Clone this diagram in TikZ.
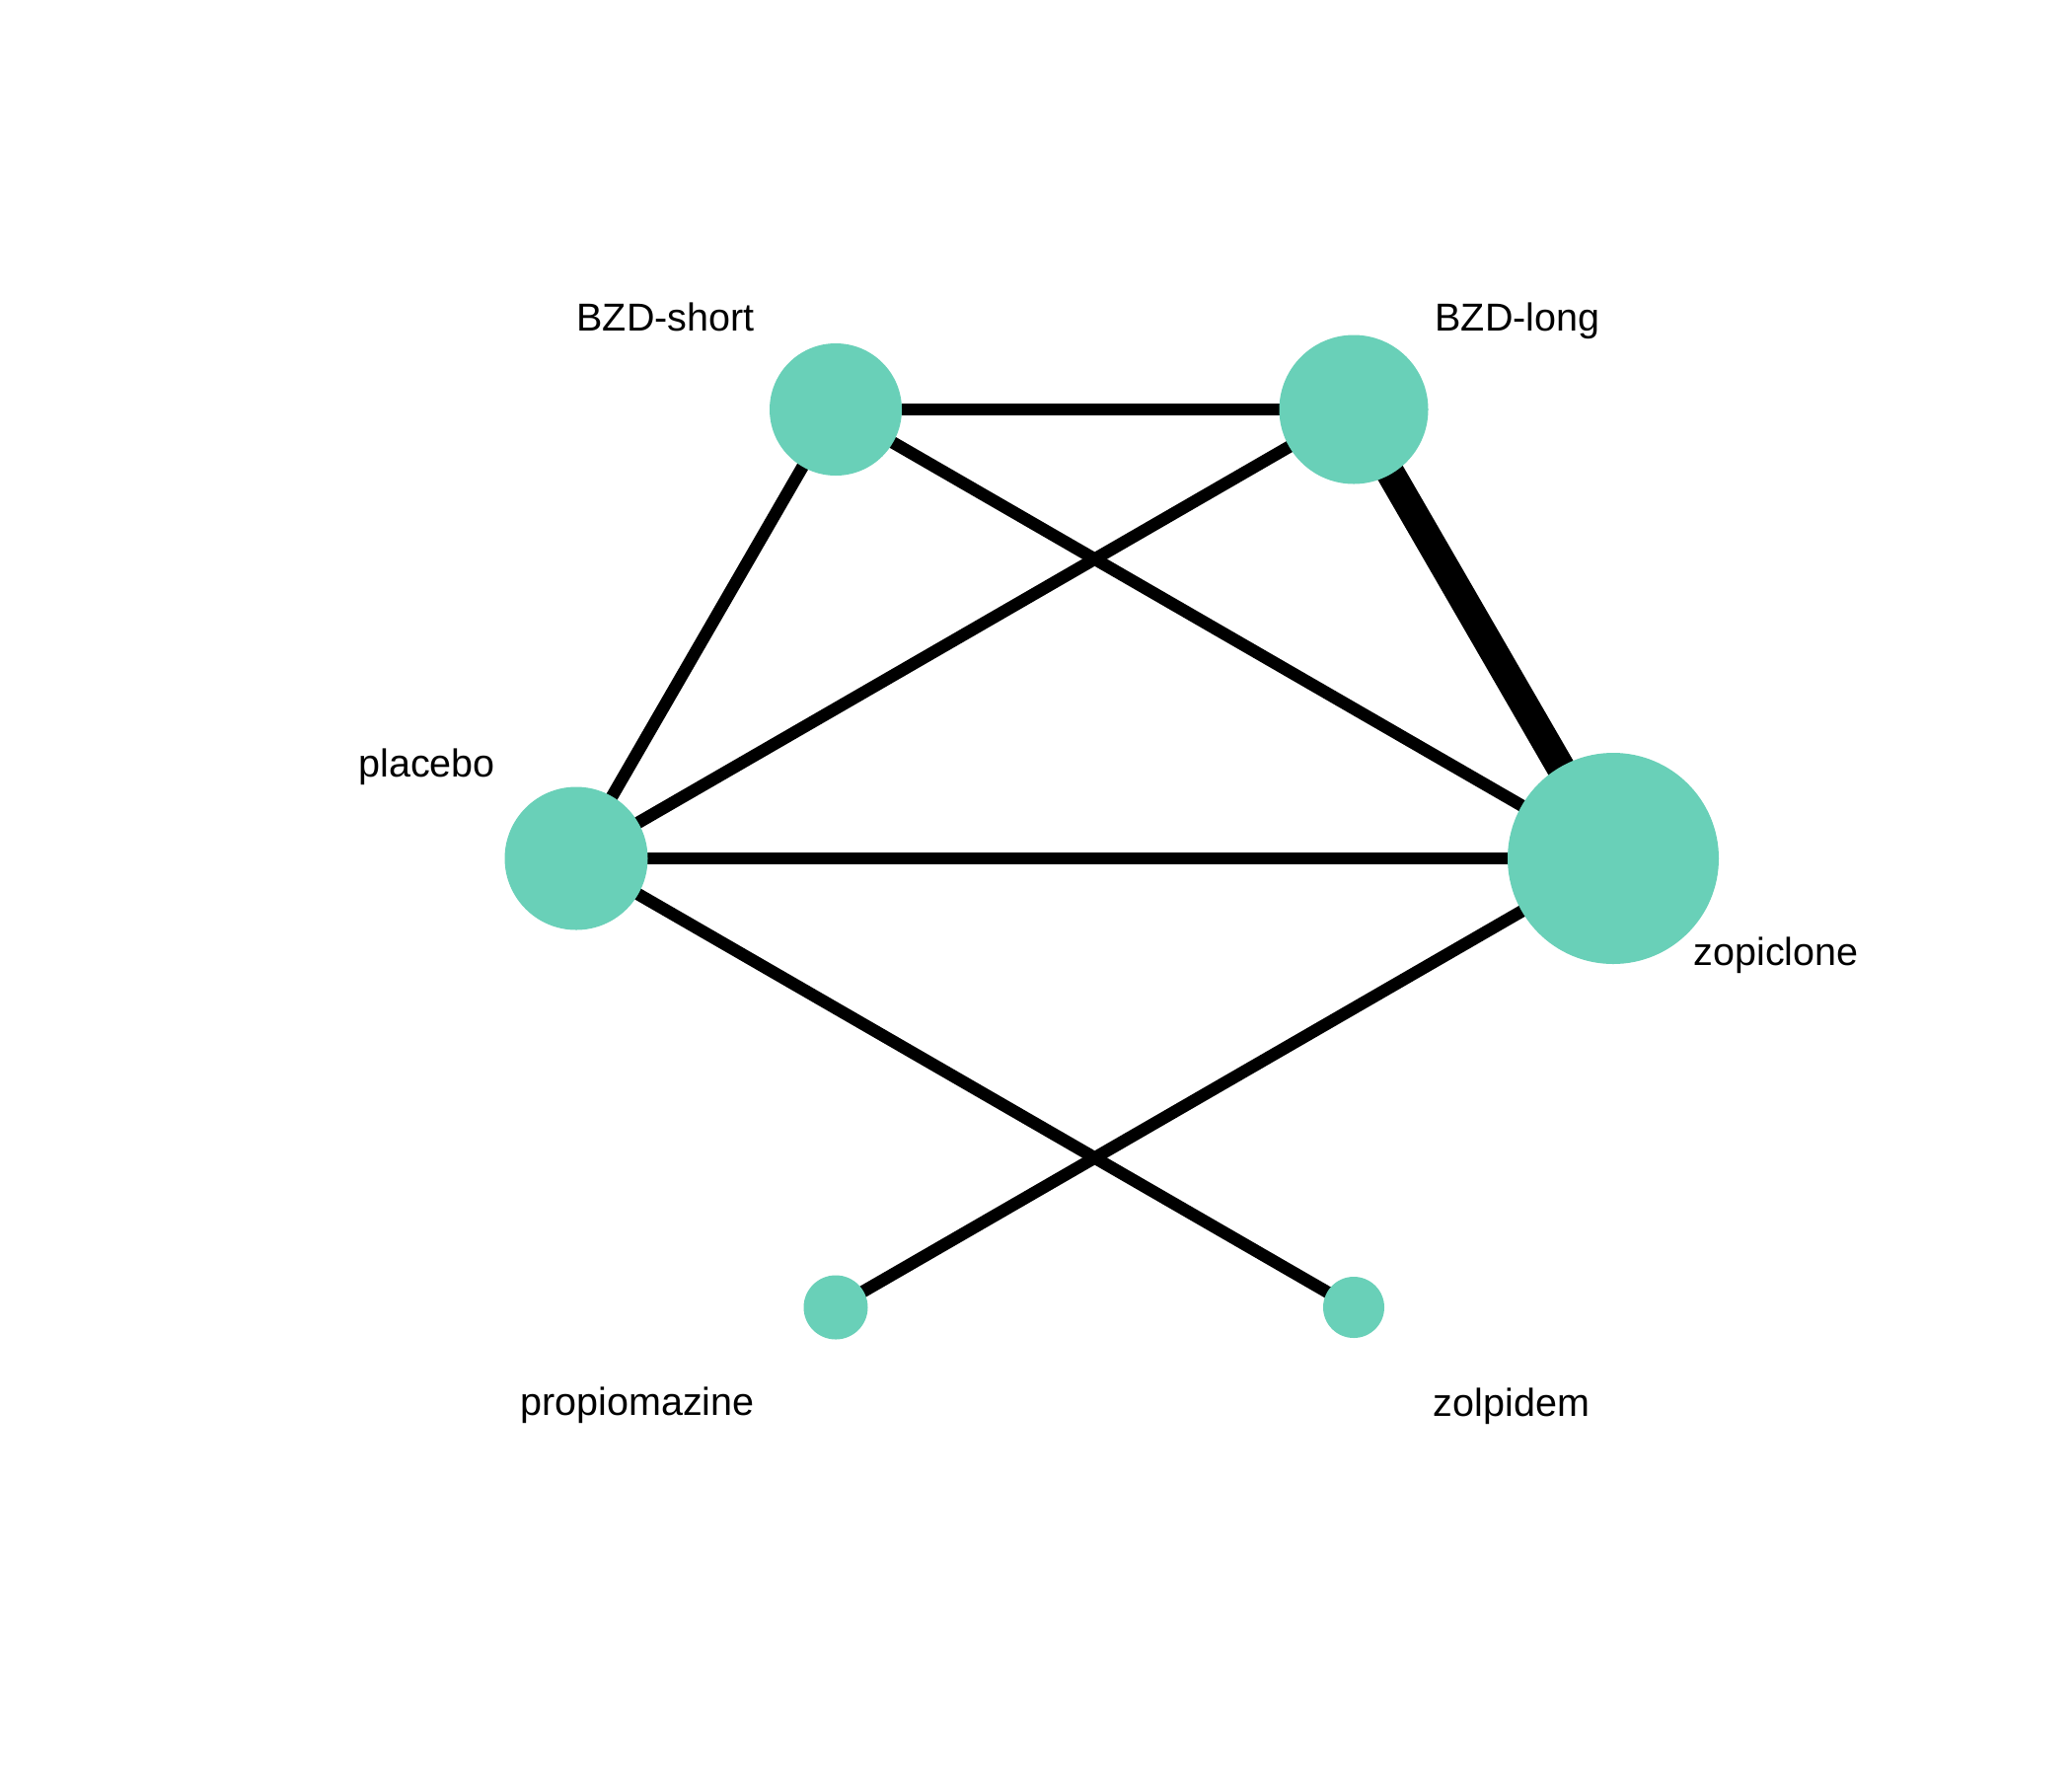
\documentclass[tikz,border=0pt]{standalone}
\usepackage{fontspec}
\setmainfont{Liberation Sans}
\definecolor{nodefill}{RGB}{105,208,184}
\begin{document}
\begin{tikzpicture}[x=1pt,y=-1pt,
  trt/.style={circle,fill=nodefill,inner sep=0pt,minimum size=#1},
  edge/.style={line width=12.5pt,black},
  heavy/.style={line width=29pt,black},
  lbl/.style={anchor=base,inner sep=0pt,font=\fontsize{39.5}{47}\selectfont}]
\useasboundingbox[fill=white] (0,0) rectangle (2100,1800);

% treatment positions
\coordinate (cs) at (847,415);
\coordinate (cl) at (1372,415);
\coordinate (cp) at (584,870);
\coordinate (cz) at (1635,870);
\coordinate (cm) at (847,1325);
\coordinate (cd) at (1372,1325);

% comparisons
\draw[edge] (cs) -- (cl);
\draw[edge] (cs) -- (cz);
\draw[edge] (cs) -- (cp);
\draw[edge] (cl) -- (cp);
\draw[heavy] (cl) -- (cz);
\draw[edge] (cp) -- (cz);
\draw[edge] (cp) -- (cd);
\draw[edge] (cz) -- (cm);

% treatments
\node[trt=134pt] (short) at (cs) {};
\node[trt=151pt] (long) at (cl) {};
\node[trt=145pt] (placebo) at (cp) {};
\node[trt=214pt] (zopiclone) at (cz) {};
\node[trt=65pt] (propiomazine) at (cm) {};
\node[trt=62pt] (zolpidem) at (cd) {};

% labels
\node[lbl] (lshort) at (674.5,335) {BZD-short};
\node[lbl] (llong) at (1538,335) {BZD-long};
\node[lbl] (lplacebo) at (432.5,787) {placebo};
\node[lbl] (lzopiclone) at (1800,978) {zopiclone};
\node[lbl] (lpropiomazine) at (646,1434.5) {propiomazine};
\node[lbl] (lzolpidem) at (1532,1435.5) {zolpidem};
\end{tikzpicture}
\end{document}
